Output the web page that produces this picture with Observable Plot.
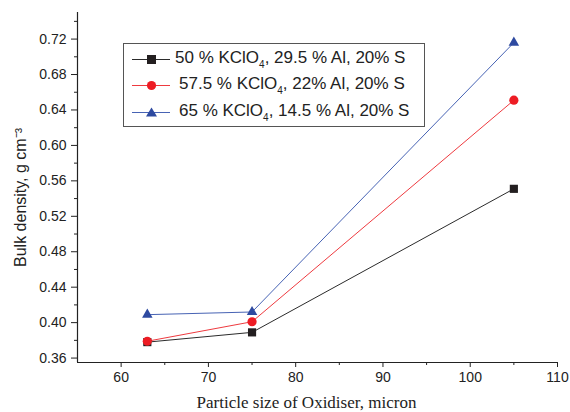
<!DOCTYPE html>
<html><head><meta charset="utf-8">
<script src="https://cdn.jsdelivr.net/npm/d3@7"></script>
<script src="https://cdn.jsdelivr.net/npm/@observablehq/plot@0.6"></script>
<style>
body{margin:0;background:#fff;}
#wrap{position:relative;width:570px;height:412px;font-family:Arial,"Liberation Sans",sans-serif;}
#legend{position:absolute;left:123px;top:43px;width:302px;height:84px;border:1px solid #555;background:#fff;box-sizing:border-box;}
.row{position:absolute;left:0;height:26px;display:flex;align-items:center;font-size:17px;color:#222;white-space:nowrap;}
.row svg{margin-left:8px;margin-right:5px;}
sub{font-size:10px;vertical-align:-5px;}
</style></head>
<body><div id="wrap"><div id="legend"></div></div>
<script>
const sizes = [63, 75, 105];
const seriesNames = ["50 % KClO₄, 29.5 % Al, 20% S", "57.5 % KClO₄, 22% Al, 20% S", "65 % KClO₄, 14.5 % Al, 20% S"];
const legendHtml = ["50 % KClO<sub>4</sub>, 29.5 % Al, 20% S", "57.5 % KClO<sub>4</sub>, 22% Al, 20% S", "65 % KClO<sub>4</sub>, 14.5 % Al, 20% S"];
const s1 = [0.378, 0.389, 0.551];
const s2 = [0.379, 0.401, 0.651];
const s3 = [0.409, 0.412, 0.716];
const yTicks = [0.36, 0.40, 0.44, 0.48, 0.52, 0.56, 0.60, 0.64, 0.68, 0.72];
const yMinor = [0.38, 0.42, 0.46, 0.50, 0.54, 0.58, 0.62, 0.66, 0.70, 0.74];
const xTicks = [60, 70, 80, 90, 100, 110];
const xMinor = [65, 75, 85, 95, 105];

const lineColors = ["#2b2b2b", "#ee3a3f", "#4763b4"];
const markColors = ["#231f20", "#ed1c24", "#2e4aa0"];
const symbols = ["square", "circle", "triangle"];
const radii = [4.6, 4.6, 3.9];
const all = [s1, s2, s3];

const rows = all.map((vals, k) => sizes.map((x, i) => ({x, y: vals[i], s: seriesNames[k]})));

const marks = [];
rows.forEach((data, k) => {
  marks.push(Plot.line(data, {x: "x", y: "y", stroke: lineColors[k], strokeWidth: 1}));
});
rows.forEach((data, k) => {
  marks.push(Plot.dot(data, {x: "x", y: "y", symbol: () => symbols[k], r: radii[k], fill: markColors[k], stroke: "none"}));
});

const plot = Plot.plot({
  width: 570, height: 412,
  marginLeft: 77, marginRight: 13, marginTop: 12, marginBottom: 50,
  style: {fontFamily: "Arial, 'Liberation Sans', sans-serif", fontSize: "14px", color: "#222", background: "#fff"},
  x: {domain: [55, 110]},
  y: {domain: [0.355, 0.75]},
  symbol: {type: "identity"},
  marks: [
    Plot.axisY({ticks: yTicks, tickFormat: d3.format(".2f"), tickSize: 6, tickPadding: 5, label: null, stroke: "#222"}),
    Plot.axisY({ticks: yMinor, tickFormat: () => "", tickSize: 3, label: null, stroke: "#222"}),
    Plot.axisX({ticks: xTicks, tickSize: 5, tickPadding: 5, label: null, stroke: "#222"}),
    Plot.axisX({ticks: xMinor, tickFormat: () => "", tickSize: 3, label: null, stroke: "#222"}),
    Plot.ruleX([55], {stroke: "#222", strokeWidth: 1.2}),
    Plot.ruleY([0.355], {stroke: "#222", strokeWidth: 1.2}),
    Plot.text(["Particle size of Oxidiser, micron"], {frameAnchor: "bottom", textAnchor: "middle", dx: -11, dy: 45, fontFamily: "'Liberation Serif', 'Times New Roman', serif", fontSize: 17, fill: "#222"}),
    Plot.text(["Bulk density, g cm⁻³"], {frameAnchor: "left", textAnchor: "middle", dx: -57, dy: 10, rotate: -90, fontSize: 16, fill: "#222"}),
    ...marks
  ]
});
document.getElementById("wrap").prepend(plot);

const legend = document.getElementById("legend");
const tops = [2, 28, 55];
const indents = [0, 4, 4];
legendHtml.forEach((h, k) => {
  const row = document.createElement("div");
  row.className = "row";
  row.style.top = tops[k] + "px";
  const sym = k === 0 ? `<rect x="15" y="9" width="9" height="9" fill="${markColors[0]}"/>`
    : k === 1 ? `<circle cx="19.5" cy="13.5" r="4.6" fill="${markColors[1]}"/>`
    : `<path d="M19.5 8.5 L25 17.5 L14 17.5 Z" fill="${markColors[2]}"/>`;
  row.innerHTML = `<svg width="${38 + indents[k]}" height="26"><line x1="0" x2="38" y1="13.5" y2="13.5" stroke="${lineColors[k]}" stroke-width="1"/>${sym}</svg><span>${h}</span>`;
  legend.appendChild(row);
});
</script></body></html>
